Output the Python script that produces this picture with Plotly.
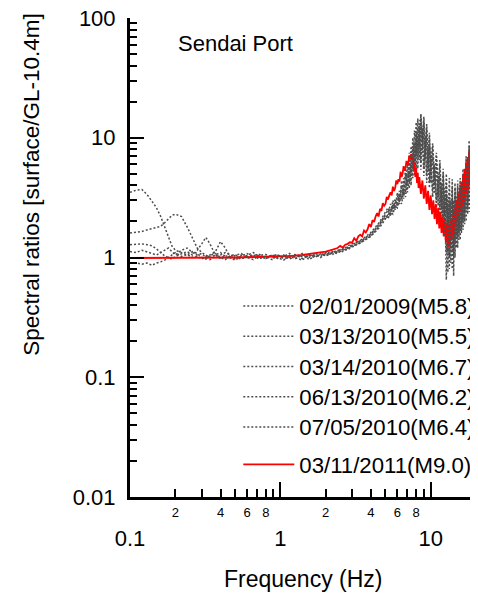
import math
import plotly.graph_objects as go

# ---------------- data ----------------
FREQ = [0.10, 0.11, 0.12, 0.13, 0.14, 0.15, 0.16, 0.17, 0.18, 0.19, 0.20, 0.22, 0.24, 0.26, 0.28,
        0.30, 0.32, 0.34, 0.37, 0.40, 0.43, 0.46, 0.50, 0.55, 0.60, 0.66, 0.72, 0.80, 0.88, 0.96,
        1.05, 1.15, 1.25, 1.4, 1.55, 1.7, 1.85, 2.0, 2.2, 2.4, 2.6, 2.8, 3.0, 3.25, 3.5, 3.75, 4.0,
        4.3, 4.6, 5.0,
        5.2, 5.4, 5.6, 5.8, 6.0, 6.2, 6.4, 6.6, 6.8, 7.0, 7.2, 7.4, 7.6, 7.8, 8.0, 8.2, 8.4, 8.6,
        8.8, 9.0, 9.2, 9.4, 9.6, 9.8, 10.0, 10.3, 10.6, 10.9, 11.2, 11.5, 11.8, 12.1, 12.4, 12.7,
        13.0, 13.3, 13.6, 13.9, 14.2, 14.5, 14.8, 15.1, 15.4, 15.7, 16.0, 16.4, 16.8, 17.2, 17.6,
        18.0, 18.4, 18.8, 19.2, 19.6, 20.0]

EQ_0201_2009 = [3.5, 3.65, 3.7, 3.35, 2.95, 2.6, 2.2, 1.8, 1.45, 1.25, 1.15, 1.1, 1.05, 1.12, 1.08,
                1.0, 0.97, 1.04, 1.08, 1.0, 0.96, 1.03, 1.06, 0.98, 1.02, 1.06, 0.97, 1.03, 0.96, 1.04,
                1.0, 1.04, 0.97, 1.05, 1.02, 1.08, 1.0, 1.06, 1.1, 1.08, 1.18, 1.15, 1.25, 1.28, 1.35,
                1.42, 1.5, 1.65, 1.8, 2.1,
                2.3, 2.8, 2.5, 3.1, 2.7, 3.6, 3.0, 4.6, 3.5, 6.0, 4.2, 8.5, 5.5, 11.5, 7.0, 14.5, 8.5,
                15.5, 8.0, 13.0, 6.5, 10.5, 5.2, 8.5, 4.2, 7.0, 3.4, 5.8, 2.7, 4.8, 2.2, 4.0, 1.5, 3.4,
                1.1, 3.0, 1.2, 3.1, 1.4, 3.3, 1.6, 3.6, 1.8, 4.0, 2.0, 4.8, 2.4, 6.0, 2.9, 7.5, 3.5,
                9.5, 4.2, 12.0, 6.0]

EQ_0313_2010 = [1.6, 1.62, 1.65, 1.7, 1.75, 1.78, 1.82, 1.95, 2.1, 2.25, 2.3, 2.2, 1.8, 1.45, 1.2,
                1.1, 1.05, 1.0, 1.05, 1.1, 1.02, 0.98, 1.04, 1.08, 0.99, 1.03, 1.07, 0.98, 1.05, 1.0,
                0.95, 1.02, 1.06, 0.98, 1.04, 1.0, 1.07, 1.03, 1.08, 1.14, 1.12, 1.2, 1.22, 1.3, 1.38,
                1.45, 1.55, 1.72, 1.9, 2.25,
                2.1, 2.4, 2.3, 2.7, 2.6, 3.0, 2.8, 3.6, 3.2, 4.5, 3.8, 6.0, 4.6, 8.0, 5.5, 10.5, 6.5,
                13.0, 7.5, 14.0, 7.0, 12.0, 6.0, 10.0, 5.0, 8.5, 4.0, 7.0, 3.2, 6.0, 2.5, 5.0, 1.8, 4.2,
                0.75, 3.5, 0.9, 3.8, 1.0, 3.8, 1.2, 4.0, 1.4, 4.2, 1.6, 5.0, 1.9, 6.5, 2.3, 8.5, 2.8,
                11.0, 3.4, 16.0, 4.5]

EQ_0314_2010 = [1.28, 1.3, 1.3, 1.28, 1.25, 1.18, 1.1, 1.03, 1.0, 0.97, 1.02, 1.08, 1.12, 1.05, 1.15,
                1.3, 1.47, 1.3, 1.05, 0.98, 1.04, 1.0, 0.95, 1.03, 1.08, 1.0, 1.04, 1.06, 1.0, 0.98,
                1.05, 0.97, 1.02, 1.08, 0.96, 1.03, 1.05, 1.1, 1.05, 1.12, 1.2, 1.22, 1.28, 1.35, 1.42,
                1.52, 1.62, 1.8, 2.0, 2.4,
                2.6, 2.3, 3.0, 2.6, 3.5, 2.9, 4.4, 3.4, 5.6, 4.0, 7.5, 4.8, 10.0, 5.8, 13.5, 6.5, 14.0,
                6.2, 12.0, 5.5, 10.0, 4.8, 8.5, 4.2, 7.0, 3.6, 6.0, 3.0, 5.0, 2.5, 4.2, 1.9, 3.8, 1.1,
                3.2, 0.8, 3.0, 1.1, 3.0, 1.3, 3.2, 1.5, 3.5, 1.7, 3.9, 2.0, 4.8, 2.4, 6.0, 2.9, 7.5,
                3.5, 10.0, 4.2, 14.0]

EQ_0613_2010 = [0.9, 0.9, 0.88, 0.9, 0.86, 0.9, 0.92, 0.95, 1.0, 1.05, 1.1, 1.02, 1.06, 1.0, 1.03,
                0.97, 1.02, 1.05, 1.12, 1.36, 1.2, 1.02, 0.98, 1.05, 1.0, 0.96, 1.03, 1.0, 1.05, 1.02,
                1.02, 1.08, 1.0, 0.95, 1.06, 1.04, 1.02, 1.08, 1.12, 1.1, 1.15, 1.18, 1.24, 1.3, 1.36,
                1.44, 1.52, 1.68, 1.85, 2.2,
                2.2, 2.6, 2.4, 2.9, 2.8, 3.3, 3.2, 4.0, 3.9, 5.0, 4.8, 6.5, 6.0, 9.0, 7.5, 12.0, 9.0,
                16.0, 9.5, 15.0, 8.5, 13.0, 7.0, 11.0, 5.8, 9.0, 4.5, 7.5, 3.6, 6.5, 2.9, 5.5, 2.3, 5.0,
                1.8, 4.6, 1.6, 4.5, 0.7, 4.2, 1.5, 4.4, 1.6, 4.6, 1.8, 5.5, 2.1, 7.0, 2.6, 9.5, 3.1,
                12.5, 3.8, 18.0, 25.0]

EQ_0705_2010 = [1.12, 1.1, 1.15, 1.12, 1.08, 1.05, 1.1, 1.15, 1.2, 1.12, 1.05, 1.15, 1.2, 1.1, 1.05,
                1.08, 1.0, 0.96, 1.02, 1.05, 1.1, 1.06, 1.0, 0.97, 1.04, 1.1, 1.02, 0.98, 1.03, 1.06,
                0.98, 1.0, 1.04, 1.02, 1.0, 1.06, 1.1, 1.04, 1.1, 1.15, 1.16, 1.25, 1.3, 1.34, 1.4,
                1.48, 1.58, 1.75, 1.95, 2.3,
                2.5, 2.2, 2.8, 2.5, 3.3, 2.8, 4.0, 3.1, 5.0, 3.5, 6.5, 4.0, 8.5, 4.8, 11.0, 5.5, 12.5,
                5.4, 11.0, 4.8, 9.0, 4.2, 7.5, 3.8, 6.5, 3.2, 5.5, 2.6, 4.5, 2.1, 3.8, 1.6, 3.2, 0.65,
                2.7, 1.0, 2.5, 0.8, 2.5, 1.0, 2.7, 1.2, 3.0, 1.4, 3.4, 1.7, 4.2, 2.0, 5.2, 2.4, 6.5,
                2.9, 8.5, 3.5, 12.0]

RED_FREQ = [0.10, 0.15, 0.2, 0.3, 0.5, 0.7, 1.0, 1.2, 1.4, 1.6, 1.8, 2.0, 2.2, 2.4,
            2.5, 2.6, 2.7, 2.8, 2.9, 3.0, 3.1, 3.2, 3.3, 3.4,
            3.5, 3.6, 3.7, 3.8, 3.9, 4.0, 4.1, 4.2, 4.3, 4.4,
            4.5, 4.6, 4.7, 4.8, 4.9, 5.0, 5.1, 5.2, 5.3, 5.4,
            5.5, 5.6, 5.7, 5.8, 5.9, 6.0, 6.1, 6.2, 6.3, 6.4,
            6.5, 6.6, 6.7, 6.8, 6.9, 7.0, 7.1, 7.2, 7.3, 7.4,
            7.5, 7.6, 7.7, 7.8, 7.9, 8.0, 8.1, 8.2, 8.3, 8.4,
            8.6, 8.8, 9.0, 9.2, 9.4, 9.6, 9.8, 10.0, 10.2, 10.4,
            10.6, 10.8, 11.0, 11.2, 11.4, 11.6, 11.8, 12.0, 12.2, 12.4,
            12.6, 12.8, 13.0, 13.2, 13.4, 13.6, 13.8, 14.0, 14.2, 14.4,
            14.6, 14.8, 15.0, 15.2, 15.4, 15.6, 15.8, 16.0, 16.2, 16.4,
            16.6, 16.8, 17.0, 17.2, 17.4, 17.6, 17.8, 18.0, 18.2, 18.4,
            18.6, 18.8, 19.0, 19.2, 19.4, 19.6, 19.8, 20.0]
EQ_0311_2011 = [0.99, 0.99, 0.99, 1.0, 1.0, 1.01, 1.02, 1.03, 1.05, 1.07, 1.1, 1.12, 1.16, 1.2,
                1.25, 1.21, 1.28, 1.3, 1.34, 1.33, 1.45, 1.38, 1.5, 1.55,
                1.5, 1.68, 1.62, 1.72, 1.9, 1.8, 2.05, 1.98, 2.2, 2.35,
                2.2, 2.55, 2.45, 2.85, 2.7, 2.8, 3.2, 3.05, 3.3, 3.5,
                3.3, 3.9, 3.6, 3.8, 4.4, 4.1, 4.5, 4.3, 5.2, 4.7,
                5.0, 5.8, 5.3, 5.6, 6.4, 5.9, 6.2, 7.1, 6.6, 7.3,
                6.6, 7.0, 5.4, 6.2, 4.7, 5.6, 4.2, 5.1, 3.8, 4.7,
                3.4, 4.4, 3.1, 4.0, 2.8, 3.6, 2.5, 3.3, 2.3, 3.0,
                2.1, 2.8, 1.9, 2.6, 1.75, 2.4, 1.6, 2.2, 1.5, 2.05,
                1.35, 1.95, 1.22, 1.85, 1.3, 2.05, 1.45, 2.35, 1.6, 2.65,
                1.8, 3.0, 2.0, 3.4, 2.2, 3.8, 2.4, 4.3, 2.6, 4.9,
                2.9, 5.5, 3.1, 6.2, 3.4, 6.9, 3.7, 7.7, 4.0, 8.5,
                4.3, 9.4, 4.7, 10.5, 5.0, 11.0, 5.6, 7.5]

GRAY_SERIES = [
    ("02/01/2009(M5.8)", EQ_0201_2009),
    ("03/13/2010(M5.5)", EQ_0313_2010),
    ("03/14/2010(M6.7)", EQ_0314_2010),
    ("06/13/2010(M6.2)", EQ_0613_2010),
    ("07/05/2010(M6.4)", EQ_0705_2010),
]
RED_NAME = "03/11/2011(M9.0)"

X_MAJOR = [0.1, 1, 10]
X_MAJOR_TEXT = ["0.1", "1", "10"]
X_MINOR = [0.2, 0.3, 0.4, 0.5, 0.6, 0.7, 0.8, 0.9, 2, 3, 4, 5, 6, 7, 8, 9, 20]
X_MINOR_LABELED = [0.2, 0.4, 0.6, 0.8, 2, 4, 6, 8, 20]
X_MINOR_TEXT = ["2", "4", "6", "8", "2", "4", "6", "8", "2"]
Y_MAJOR = [0.01, 0.1, 1, 10, 100]
Y_MAJOR_TEXT = ["0.01", "0.1", "1", "10", "100"]
Y_MINOR = [0.02, 0.03, 0.04, 0.05, 0.06, 0.07, 0.08, 0.09,
           0.2, 0.3, 0.4, 0.5, 0.6, 0.7, 0.8, 0.9,
           2, 3, 4, 5, 6, 7, 8, 9,
           20, 30, 40, 50, 60, 70, 80, 90]

# ---------------- figure ----------------
# the page body has an 8px margin; margins below compensate so the plot lands
# at x 130..476, y 18..497 of the window
FONT = "Arial, Liberation Sans, sans-serif"


def legend_label(text):
    return "<span style='font-size:22.2px'>" + text + "</span>"


fig = go.Figure()
for i, (name, vals) in enumerate(GRAY_SERIES):
    fig.add_trace(go.Scatter(x=FREQ, y=vals, mode="lines", name=legend_label(name),
                             legendgroup="past", xaxis="x2" if i == 0 else "x",
                             line=dict(color="#4d4d4d", width=1.5, dash="2px,2px")))
fig.add_trace(go.Scatter(x=RED_FREQ, y=EQ_0311_2011, mode="lines", name=legend_label(RED_NAME),
                         legendgroup="main", line=dict(color="#ff0000", width=1.8)))

xr = [-1, math.log10(20)]
fig.update_layout(
    width=478, height=594,
    margin=dict(l=122, r=10, t=10, b=105, autoexpand=False),
    paper_bgcolor="white", plot_bgcolor="white",
    font=dict(family=FONT, color="black", size=22),
    showlegend=True,
    legend=dict(x=0.313, y=0.441, xanchor="left", yanchor="top", bgcolor="rgba(0,0,0,0)",
                font=dict(size=21, family=FONT), itemwidth=51, tracegroupgap=7,
                traceorder="grouped"),
    xaxis=dict(type="log", range=xr, showline=True, linecolor="black", linewidth=3,
               ticks="inside", ticklen=15, tickwidth=2, tickcolor="black",
               tickmode="array", tickvals=X_MAJOR, ticktext=X_MAJOR_TEXT,
               tickfont=dict(size=22), ticklabelstandoff=20, ticklabeloverflow="allow",
               minor=dict(ticks="inside", ticklen=8, tickwidth=2, tickcolor="black",
                          tickmode="array", tickvals=X_MINOR, showgrid=False),
               showgrid=False, zeroline=False),
    xaxis2=dict(type="log", range=xr, overlaying="x", anchor="y", side="bottom",
                showline=False, ticks="", tickmode="array", tickvals=X_MINOR_LABELED,
                ticktext=X_MINOR_TEXT, tickfont=dict(size=13), ticklabelstandoff=6,
                ticklabeloverflow="allow", showgrid=False, zeroline=False),
    yaxis=dict(type="log", range=[-2, 2], showline=True, linecolor="black", linewidth=3,
               ticks="inside", ticklen=14, tickwidth=2, tickcolor="black",
               tickmode="array", tickvals=Y_MAJOR, ticktext=Y_MAJOR_TEXT,
               tickfont=dict(size=22), ticklabelstandoff=7, ticklabeloverflow="allow",
               minor=dict(ticks="inside", ticklen=7, tickwidth=2, tickcolor="black",
                          tickmode="array", tickvals=Y_MINOR, showgrid=False),
               showgrid=False, zeroline=False),
    annotations=[
        dict(text="Sendai Port", xref="paper", yref="paper", x=0.133, y=0.946,
             xanchor="left", yanchor="middle", showarrow=False, font=dict(size=22)),
        dict(text="Spectral ratios [surface/GL-10.4m]", xref="paper", yref="paper",
             x=-0.283, y=0.652, xanchor="center", yanchor="middle", textangle=-90,
             showarrow=False, font=dict(size=22.5)),
        dict(text="Frequency (Hz)", xref="paper", yref="paper", x=0.5, y=-0.171,
             xanchor="center", yanchor="middle", showarrow=False, font=dict(size=23)),
    ],
)
fig.write_html("out.html")
